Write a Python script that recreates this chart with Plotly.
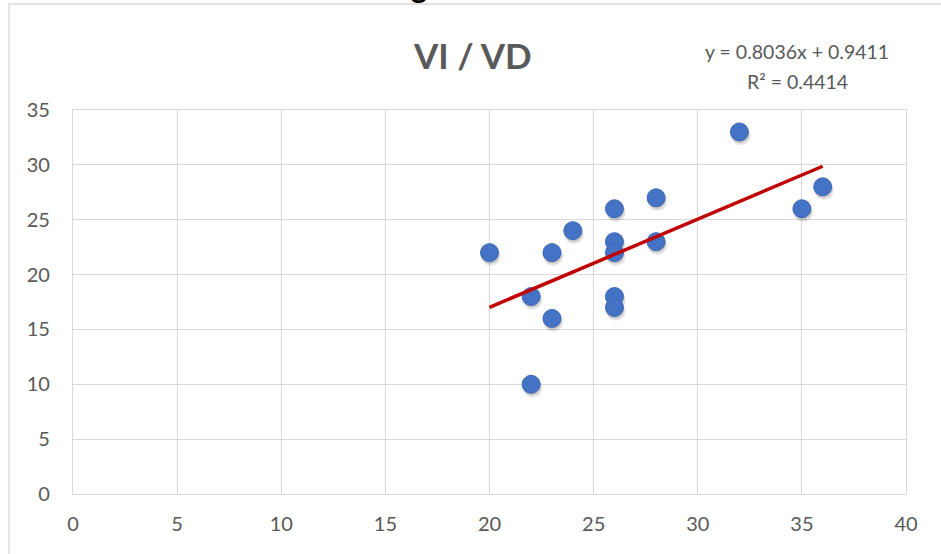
import numpy as np
import plotly.graph_objects as go

# Data
vd = [20, 22, 22, 23, 23, 24, 26, 26, 26, 26, 26, 28, 28, 32, 35, 36]
vi = [22, 18, 10, 22, 16, 24, 26, 23, 22, 18, 17, 27, 23, 33, 26, 28]
title_text = "VI / VD"
eq_line1 = "y = 0.8036x + 0.9411"
eq_line2 = "R² = 0.4414"
x_ticks = [0, 5, 10, 15, 20, 25, 30, 35, 40]
y_ticks = [0, 5, 10, 15, 20, 25, 30, 35]

W, H = 941, 554
L, R, T, B = 73, 35, 110, 60
pw, ph = W - L - R, H - T - B

def px_x(p):
    return (p - L) / pw

def px_y(p):
    return (H - B - p) / ph

slope, intercept = np.polyfit(vd, vi, 1)
xt = np.array([min(vd), max(vd)])
yt = slope * xt + intercept

FONT = "Lato"
GREY = "#595959"

fig = go.Figure()
# soft marker shadow
fig.add_trace(go.Scatter(
    x=np.array(vd) + 0.06, y=np.array(vi) - 0.3, mode="markers",
    marker=dict(size=20, color="rgba(0,0,0,0.10)", line=dict(width=0)),
    hoverinfo="skip", showlegend=False))
fig.add_trace(go.Scatter(
    x=np.array(vd) + 0.04, y=np.array(vi) - 0.2, mode="markers",
    marker=dict(size=18, color="rgba(0,0,0,0.12)", line=dict(width=0)),
    hoverinfo="skip", showlegend=False))
fig.add_trace(go.Scatter(
    x=vd, y=vi, mode="markers",
    marker=dict(size=18, color="#4472C4", line=dict(width=1, color="#3E68B5")),
    showlegend=False))
fig.add_trace(go.Scatter(
    x=xt, y=yt, mode="lines",
    line=dict(color="#C00000", width=3.5), showlegend=False))

axis_common = dict(
    showgrid=True, gridcolor="#D9D9D9", gridwidth=1.3,
    zeroline=False, showline=True, linecolor="#D9D9D9", linewidth=1.3,
    mirror=True, ticks="",
    tickfont=dict(family=FONT, size=20, color=GREY),
)

fig.update_layout(
    width=W, height=H,
    margin=dict(l=L, r=R, t=T, b=B, autoexpand=False),
    paper_bgcolor="white", plot_bgcolor="white",
    xaxis=dict(range=[0, 40], tickvals=x_ticks, ticklabelstandoff=12, **axis_common),
    yaxis=dict(range=[0, 35], tickvals=y_ticks, ticklabelstandoff=18, **axis_common),
    shapes=[dict(type="rect", xref="paper", yref="paper",
                 x0=px_x(9), x1=px_x(W + 20), y0=px_y(H + 20), y1=px_y(4),
                 line=dict(color="#D9D9D9", width=1.3), fillcolor="rgba(0,0,0,0)",
                 layer="below")],
    annotations=[
        dict(text="<b>" + title_text + "</b>", xref="paper", yref="paper",
             x=px_x(472), y=px_y(55), xanchor="center", yanchor="middle",
             showarrow=False, font=dict(family=FONT, size=35, color=GREY)),
        dict(text=eq_line1, xref="paper", yref="paper",
             x=px_x(797), y=px_y(52), xanchor="center", yanchor="middle",
             showarrow=False, font=dict(family=FONT, size=19.5, color=GREY)),
        dict(text=eq_line2, xref="paper", yref="paper",
             x=px_x(797), y=px_y(82), xanchor="center", yanchor="middle",
             showarrow=False, font=dict(family=FONT, size=19.5, color=GREY)),
        dict(text="<b>g</b>", xref="paper", yref="paper",
             x=px_x(419), y=px_y(-14.5), xanchor="center", yanchor="middle",
             showarrow=False, font=dict(family=FONT, size=30, color="black")),
    ],
)

fig.write_html("out.html", config={"displayModeBar": False},
               post_script="document.body.style.margin='0';document.body.style.padding='0';")
